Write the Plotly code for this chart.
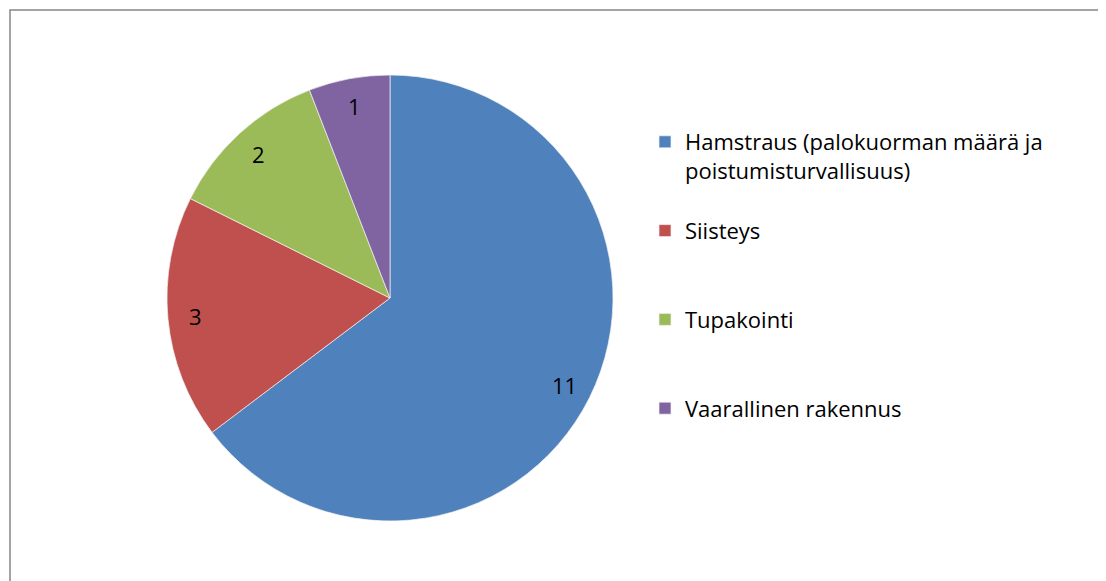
import math
import plotly.graph_objects as go

categories = [
    "Hamstraus (palokuorman määrä ja<br>poistumisturvallisuus)<br> ",
    "Siisteys<br> <br> ",
    "Tupakointi<br> <br> ",
    "Vaarallinen rakennus<br> <br> ",
]
values = [11, 3, 2, 1]
colors = ["#4F81BD", "#C0504D", "#9BBB59", "#8064A2"]

FONT = "Open Sans, Lato, Carlito, Calibri, sans-serif"
# page body has an 8px margin; figure sized to fit the window
W, H = 1098, 573
cx, cy, r = 382, 290, 223
label_frac = 0.875

fig = go.Figure(go.Pie(
    labels=categories,
    values=values,
    sort=False,
    direction="clockwise",
    rotation=0,
    marker=dict(colors=colors, line=dict(color="#F2F2F2", width=0.7)),
    textinfo="none",
    hoverinfo="label+value",
    domain=dict(x=[(cx - r) / W, (cx + r) / W], y=[(H - cy - r) / H, (H - cy + r) / H]),
))

# value labels placed near the outer part of each slice (derived from the data)
total = sum(values)
cum = 0
for v in values:
    mid = (cum + v / 2) / total * 2 * math.pi
    cum += v
    px = cx + label_frac * r * math.sin(mid)
    py = cy - label_frac * r * math.cos(mid)
    fig.add_annotation(x=px / W, y=1 - py / H, xref="paper", yref="paper",
                       text=str(v), showarrow=False,
                       font=dict(family=FONT, size=22, color="black"),
                       xanchor="center", yanchor="middle")

fig.add_shape(type="rect", xref="paper", yref="paper",
              x0=2 / W, x1=1.05, y0=-0.05, y1=1 - 2 / H,
              line=dict(color="#868686", width=1.5), fillcolor="rgba(0,0,0,0)")

fig.update_layout(
    width=W, height=H,
    margin=dict(l=0, r=0, t=0, b=0),
    paper_bgcolor="white",
    plot_bgcolor="white",
    showlegend=True,
    legend=dict(
        x=637 / W, xanchor="left",
        y=1 - 113 / H, yanchor="top",
        valign="top",
        font=dict(family=FONT, size=22, color="black"),
        bgcolor="rgba(0,0,0,0)",
        tracegroupgap=0,
    ),
)

fig.write_html("out.html")
